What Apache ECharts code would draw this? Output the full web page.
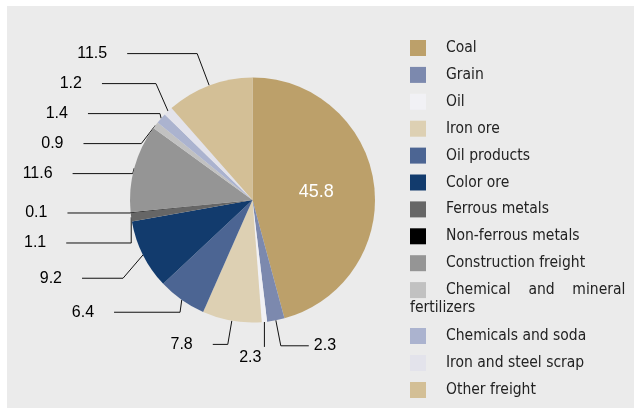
<!DOCTYPE html>
<html>
<head>
<meta charset="utf-8">
<script src="https://cdn.jsdelivr.net/npm/echarts@6/dist/echarts.min.js"></script>
<style>
  html, body { margin: 0; padding: 0; background: #fff; }
  #chart { width: 634px; height: 408px; }
</style>
</head>
<body>
<div id="chart"></div>
<script>
// cargo categories, clockwise from 12 o'clock
const categories = [
  'Coal', 'Grain', 'Oil', 'Iron ore', 'Oil products', 'Color ore',
  'Ferrous metals', 'Non-ferrous metals', 'Construction freight',
  'Chemical and mineral fertilizers', 'Chemicals and soda',
  'Iron and steel scrap', 'Other freight'
];
// slice sizes (%) as drawn
const shares = [45.8, 2.3, 0.7, 7.8, 6.4, 9.2, 1.1, 0.1, 11.6, 0.9, 1.4, 1.2, 11.5];
// numbers printed next to the slices
const printed = ['45.8', '2.3', '2.3', '7.8', '6.4', '9.2', '1.1', '0.1', '11.6', '0.9', '1.4', '1.2', '11.5'];
const colors = [
  '#bca06a', '#7c89ae', '#f1f1f5', '#ddd0b3', '#4c6593', '#123b6d',
  '#666666', '#000000', '#959595', '#c1c1c1', '#abb3cf', '#e3e3eb', '#d3bf96'
];
// leader line segments per slice: [radial length, horizontal length]
const leaders = [
  [0, 0], [26, 28], [62, 0], [24, 15], [15, 66], [52, 41],
  [5, 84], [3, 80], [5, 74], [5, 69], [9, 72], [40, 54], [34, 70]
];

const legendFont = '"DejaVu Sans Condensed", "Liberation Sans Narrow", sans-serif';

const chart = echarts.init(document.getElementById('chart'));

const pieData = categories.map((name, i) => {
  const item = {
    name: name,
    value: shares[i],
    itemStyle: { color: colors[i] },
    labelLine: { length: leaders[i][0], length2: leaders[i][1] }
  };
  if (i === 0) {
    item.label = { position: 'inside', color: '#fff', fontSize: 18, lineHeight: 18, padding: 0, fontFamily: 'Liberation Sans' };
    item.labelLine = { show: false };
  }
  if (i === 1) {
    item.label = { distanceToLabelLine: 5 };
  }
  return item;
});

const legendText = { fontFamily: legendFont, fontSize: 15.5, lineHeight: 16, color: '#222', padding: [0, 0, 0, 15] };

chart.setOption({
  animation: false,
  graphic: [
    { type: 'rect', z: -10, shape: { x: 7, y: 6, width: 627, height: 402 }, style: { fill: '#ebebeb' } },
    { type: 'text', left: 410, top: 300, style: { text: 'fertilizers', font: '15.5px "DejaVu Sans Condensed", sans-serif', fill: '#222' } }
  ],
  legend: [
    {
      data: categories.slice(0, 10),
      orient: 'vertical',
      left: 410,
      top: 40,
      padding: 0,
      itemWidth: 16,
      itemHeight: 16,
      itemGap: 10.9,
      icon: 'rect',
      selectedMode: false,
      formatter: name => name === 'Chemical and mineral fertilizers' ? 'Chemical    and    mineral' : name,
      textStyle: legendText
    },
    {
      data: categories.slice(10),
      orient: 'vertical',
      left: 410,
      top: 328,
      padding: 0,
      itemWidth: 16,
      itemHeight: 16,
      itemGap: 11,
      icon: 'rect',
      selectedMode: false,
      textStyle: legendText
    }
  ],
  series: [{
    type: 'pie',
    center: [252.5, 200],
    radius: 122.5,
    startAngle: 90,
    clockwise: true,
    avoidLabelOverlap: true,
    data: pieData,
    label: {
      show: true,
      position: 'outside',
      formatter: p => printed[p.dataIndex],
      fontFamily: 'Liberation Sans',
      fontSize: 16,
      lineHeight: 18,
      padding: [0, 0, 10, 0],
      distanceToLabelLine: 20,
      color: '#000'
    },
    labelLine: {
      show: true,
      lineStyle: { color: '#111', width: 1 }
    },
    // the tiny oil slice gets a straight drop line with its value underneath
    labelLayout: p => {
      if (p.dataIndex !== 2 || !p.labelLinePoints) return {};
      const a = p.labelLinePoints[0];
      const b = [a[0], a[1] + 25];
      return { x: a[0] - 3, y: a[1] + 27, align: 'right', verticalAlign: 'top', labelLinePoints: [a, b, b] };
    },
    emphasis: { disabled: true }
  }]
});
</script>
</body>
</html>
